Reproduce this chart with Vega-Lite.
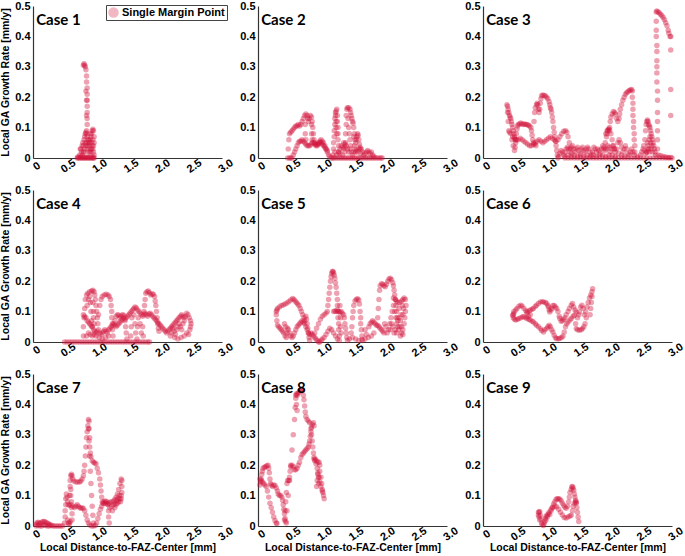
{
"$schema": "https://vega.github.io/schema/vega-lite/v6.json",
"background": "white",
"padding": {"left": 0, "top": 0, "right": 0, "bottom": 0},
"columns": 3,
"spacing": {"row": 32, "column": 36},
"bounds": "flush",
"config": {
 "view": {"stroke": null},
 "axis": {"labelFont": "Liberation Sans", "labelFontWeight": "bold", "labelFontSize": 11, "labelColor": "#000", "titleFont": "Liberation Sans", "titleFontWeight": "bold", "titleFontSize": 10.5, "titleColor": "#000", "domainColor": "#333", "domainWidth": 1.2, "ticks": false, "grid": false, "labelExpr": "datum.value == 0 ? '0' : format(datum.value, '.1f')"},
 "axisX": {"labelAngle": -35, "labelAlign": "center", "labelBaseline": "top", "labelPadding": 3, "values": [0, 0.5, 1, 1.5, 2, 2.5, 3], "titlePadding": 0},
 "axisY": {"labelPadding": 3, "titlePadding": 4, "values": [0, 0.1, 0.2, 0.3, 0.4, 0.5]},
 "text": {"font": "Lato", "fontWeight": "bold", "fontSize": 15, "align": "left", "baseline": "middle", "color": "#000"}
},
"datasets": {"d": [
{"c":1,"x":0.70,"y":0},{"c":1,"x":0.72,"y":0},{"c":1,"x":0.74,"y":0},{"c":1,"x":0.76,"y":0},{"c":1,"x":0.78,"y":0},{"c":1,"x":0.80,"y":0},{"c":1,"x":0.82,"y":0},{"c":1,"x":0.84,"y":0},{"c":1,"x":0.86,"y":0},{"c":1,"x":0.88,"y":0},{"c":1,"x":0.90,"y":0},{"c":1,"x":0.92,"y":0},{"c":1,"x":0.94,"y":0},{"c":1,"x":0.96,"y":0},{"c":1,"x":0.97,"y":0},
{"c":1,"x":0.71,"y":0.003},{"c":1,"x":0.75,"y":0.003},{"c":1,"x":0.79,"y":0.003},{"c":1,"x":0.83,"y":0.003},{"c":1,"x":0.87,"y":0.003},{"c":1,"x":0.91,"y":0.003},{"c":1,"x":0.95,"y":0.003},
{"c":1,"x":0.80,"y":0.305},{"c":1,"x":0.81,"y":0.31},{"c":1,"x":0.82,"y":0.305},{"c":1,"x":0.83,"y":0.30},{"c":1,"x":0.84,"y":0.29},{"c":1,"x":0.85,"y":0.27},{"c":1,"x":0.85,"y":0.25},{"c":1,"x":0.86,"y":0.23},{"c":1,"x":0.86,"y":0.21},{"c":1,"x":0.86,"y":0.19},{"c":1,"x":0.86,"y":0.17},{"c":1,"x":0.86,"y":0.15},{"c":1,"x":0.86,"y":0.13},{"c":1,"x":0.86,"y":0.11},{"c":1,"x":0.85,"y":0.09},{"c":1,"x":0.84,"y":0.22},{"c":1,"x":0.85,"y":0.19},{"c":1,"x":0.85,"y":0.14},
{"c":1,"x":0.74,"y":0.01},{"c":1,"x":0.75,"y":0.03},{"c":1,"x":0.76,"y":0.03},{"c":1,"x":0.77,"y":0.02},{"c":1,"x":0.78,"y":0.04},{"c":1,"x":0.79,"y":0.05},{"c":1,"x":0.80,"y":0.04},{"c":1,"x":0.81,"y":0.06},{"c":1,"x":0.82,"y":0.07},{"c":1,"x":0.83,"y":0.08},{"c":1,"x":0.84,"y":0.085},{"c":1,"x":0.85,"y":0.08},{"c":1,"x":0.86,"y":0.07},{"c":1,"x":0.87,"y":0.06},{"c":1,"x":0.88,"y":0.05},{"c":1,"x":0.89,"y":0.04},{"c":1,"x":0.90,"y":0.05},{"c":1,"x":0.91,"y":0.06},{"c":1,"x":0.92,"y":0.07},{"c":1,"x":0.93,"y":0.08},{"c":1,"x":0.94,"y":0.09},{"c":1,"x":0.95,"y":0.095},{"c":1,"x":0.96,"y":0.09},{"c":1,"x":0.97,"y":0.07},{"c":1,"x":0.97,"y":0.05},{"c":1,"x":0.96,"y":0.04},{"c":1,"x":0.95,"y":0.03},{"c":1,"x":0.94,"y":0.04},{"c":1,"x":0.93,"y":0.03},{"c":1,"x":0.92,"y":0.02},{"c":1,"x":0.91,"y":0.03},{"c":1,"x":0.90,"y":0.02},{"c":1,"x":0.88,"y":0.02},{"c":1,"x":0.86,"y":0.03},{"c":1,"x":0.84,"y":0.04},{"c":1,"x":0.82,"y":0.03},{"c":1,"x":0.80,"y":0.02},{"c":1,"x":0.78,"y":0.01},{"c":1,"x":0.81,"y":0.02},{"c":1,"x":0.83,"y":0.05},{"c":1,"x":0.85,"y":0.05},{"c":1,"x":0.87,"y":0.04},{"c":1,"x":0.89,"y":0.06},{"c":1,"x":0.91,"y":0.08},{"c":1,"x":0.93,"y":0.05},{"c":1,"x":0.95,"y":0.06},{"c":1,"x":0.96,"y":0.02},{"c":1,"x":0.97,"y":0.01},

{"c":2,"x":0.47,"y":0.00},{"c":2,"x":0.48,"y":0.03},{"c":2,"x":0.49,"y":0.06},{"c":2,"x":0.50,"y":0.08},{"c":2,"x":0.52,"y":0.085},{"c":2,"x":0.54,"y":0.09},{"c":2,"x":0.56,"y":0.095},{"c":2,"x":0.58,"y":0.10},{"c":2,"x":0.60,"y":0.105},{"c":2,"x":0.62,"y":0.105},{"c":2,"x":0.64,"y":0.11},{"c":2,"x":0.66,"y":0.105},{"c":2,"x":0.68,"y":0.11},{"c":2,"x":0.70,"y":0.12},{"c":2,"x":0.72,"y":0.13},{"c":2,"x":0.74,"y":0.14},{"c":2,"x":0.76,"y":0.145},{"c":2,"x":0.78,"y":0.14},{"c":2,"x":0.79,"y":0.13},{"c":2,"x":0.80,"y":0.12},{"c":2,"x":0.81,"y":0.13},{"c":2,"x":0.83,"y":0.14},{"c":2,"x":0.85,"y":0.135},{"c":2,"x":0.86,"y":0.12},{"c":2,"x":0.87,"y":0.10},{"c":2,"x":0.88,"y":0.08},{"c":2,"x":0.89,"y":0.06},{"c":2,"x":0.90,"y":0.05},{"c":2,"x":0.92,"y":0.045},{"c":2,"x":0.94,"y":0.04},{"c":2,"x":0.96,"y":0.045},{"c":2,"x":0.98,"y":0.05},{"c":2,"x":1.00,"y":0.05},{"c":2,"x":1.02,"y":0.045},{"c":2,"x":1.04,"y":0.04},{"c":2,"x":1.06,"y":0.035},{"c":2,"x":1.08,"y":0.03},{"c":2,"x":1.10,"y":0.025},
{"c":2,"x":0.75,"y":0.11},{"c":2,"x":0.75,"y":0.08},{"c":2,"x":0.76,"y":0.06},{"c":2,"x":0.85,"y":0.11},{"c":2,"x":0.85,"y":0.08},{"c":2,"x":0.86,"y":0.06},
{"c":2,"x":0.50,"y":0.00},{"c":2,"x":0.52,"y":0.00},{"c":2,"x":0.54,"y":0.00},{"c":2,"x":0.56,"y":0.01},{"c":2,"x":0.58,"y":0.02},{"c":2,"x":0.60,"y":0.03},{"c":2,"x":0.62,"y":0.04},{"c":2,"x":0.64,"y":0.05},{"c":2,"x":0.66,"y":0.055},{"c":2,"x":0.68,"y":0.055},{"c":2,"x":0.70,"y":0.06},{"c":2,"x":0.72,"y":0.055},{"c":2,"x":0.74,"y":0.05},{"c":2,"x":0.76,"y":0.045},{"c":2,"x":0.78,"y":0.04},{"c":2,"x":0.80,"y":0.04},{"c":2,"x":0.82,"y":0.04},{"c":2,"x":0.84,"y":0.045},{"c":2,"x":0.86,"y":0.05},{"c":2,"x":0.88,"y":0.05},{"c":2,"x":0.90,"y":0.045},{"c":2,"x":0.92,"y":0.04},{"c":2,"x":0.94,"y":0.045},{"c":2,"x":0.96,"y":0.05},{"c":2,"x":0.98,"y":0.055},{"c":2,"x":1.00,"y":0.06},{"c":2,"x":1.02,"y":0.055},{"c":2,"x":1.04,"y":0.05},{"c":2,"x":1.06,"y":0.04},{"c":2,"x":1.08,"y":0.03},{"c":2,"x":1.10,"y":0.02},{"c":2,"x":1.12,"y":0.01},{"c":2,"x":1.14,"y":0.005},{"c":2,"x":1.16,"y":0.0},{"c":2,"x":1.18,"y":0.0},
{"c":2,"x":1.19,"y":0.01},{"c":2,"x":1.20,"y":0.03},{"c":2,"x":1.20,"y":0.05},{"c":2,"x":1.21,"y":0.07},{"c":2,"x":1.21,"y":0.09},{"c":2,"x":1.22,"y":0.11},{"c":2,"x":1.22,"y":0.13},{"c":2,"x":1.23,"y":0.15},{"c":2,"x":1.24,"y":0.155},{"c":2,"x":1.25,"y":0.16},{"c":2,"x":1.26,"y":0.14},{"c":2,"x":1.26,"y":0.12},{"c":2,"x":1.27,"y":0.10},{"c":2,"x":1.27,"y":0.08},{"c":2,"x":1.27,"y":0.06},{"c":2,"x":1.28,"y":0.04},{"c":2,"x":1.28,"y":0.02},{"c":2,"x":1.23,"y":0.14},{"c":2,"x":1.24,"y":0.12},{"c":2,"x":1.24,"y":0.10},{"c":2,"x":1.25,"y":0.08},
{"c":2,"x":1.38,"y":0.02},{"c":2,"x":1.39,"y":0.05},{"c":2,"x":1.39,"y":0.08},{"c":2,"x":1.40,"y":0.11},{"c":2,"x":1.40,"y":0.14},{"c":2,"x":1.41,"y":0.16},{"c":2,"x":1.42,"y":0.165},{"c":2,"x":1.44,"y":0.165},{"c":2,"x":1.46,"y":0.16},{"c":2,"x":1.47,"y":0.15},{"c":2,"x":1.48,"y":0.14},{"c":2,"x":1.49,"y":0.13},{"c":2,"x":1.50,"y":0.12},{"c":2,"x":1.51,"y":0.115},{"c":2,"x":1.52,"y":0.10},{"c":2,"x":1.53,"y":0.08},{"c":2,"x":1.54,"y":0.06},{"c":2,"x":1.55,"y":0.05},{"c":2,"x":1.56,"y":0.06},{"c":2,"x":1.57,"y":0.07},{"c":2,"x":1.58,"y":0.08},{"c":2,"x":1.59,"y":0.075},{"c":2,"x":1.60,"y":0.06},{"c":2,"x":1.61,"y":0.045},{"c":2,"x":1.62,"y":0.03},{"c":2,"x":1.63,"y":0.015},
{"c":2,"x":1.43,"y":0.13},{"c":2,"x":1.44,"y":0.10},{"c":2,"x":1.45,"y":0.08},{"c":2,"x":1.46,"y":0.06},{"c":2,"x":1.47,"y":0.04},{"c":2,"x":1.52,"y":0.07},{"c":2,"x":1.53,"y":0.04},{"c":2,"x":1.55,"y":0.02},
{"c":2,"x":1.22,"y":0.02},{"c":2,"x":1.25,"y":0.01},{"c":2,"x":1.28,"y":0.02},{"c":2,"x":1.30,"y":0.03},{"c":2,"x":1.32,"y":0.04},{"c":2,"x":1.34,"y":0.035},{"c":2,"x":1.36,"y":0.03},{"c":2,"x":1.38,"y":0.035},{"c":2,"x":1.40,"y":0.04},{"c":2,"x":1.42,"y":0.03},{"c":2,"x":1.44,"y":0.02},{"c":2,"x":1.46,"y":0.03},{"c":2,"x":1.48,"y":0.02},{"c":2,"x":1.50,"y":0.01},{"c":2,"x":1.52,"y":0.02},{"c":2,"x":1.54,"y":0.03},{"c":2,"x":1.56,"y":0.025},{"c":2,"x":1.58,"y":0.02},{"c":2,"x":1.60,"y":0.03},{"c":2,"x":1.62,"y":0.035},{"c":2,"x":1.64,"y":0.03},{"c":2,"x":1.66,"y":0.02},{"c":2,"x":1.68,"y":0.01},{"c":2,"x":1.70,"y":0.015},{"c":2,"x":1.72,"y":0.02},{"c":2,"x":1.74,"y":0.025},{"c":2,"x":1.76,"y":0.02},{"c":2,"x":1.78,"y":0.015},{"c":2,"x":1.80,"y":0.02},{"c":2,"x":1.82,"y":0.01},{"c":2,"x":1.84,"y":0.005},{"c":2,"x":1.30,"y":0.015},{"c":2,"x":1.34,"y":0.01},{"c":2,"x":1.36,"y":0.05},{"c":2,"x":1.38,"y":0.045},
{"c":2,"x":1.20,"y":0},{"c":2,"x":1.23,"y":0},{"c":2,"x":1.26,"y":0},{"c":2,"x":1.29,"y":0},{"c":2,"x":1.32,"y":0},{"c":2,"x":1.35,"y":0},{"c":2,"x":1.38,"y":0},{"c":2,"x":1.41,"y":0},{"c":2,"x":1.44,"y":0},{"c":2,"x":1.47,"y":0},{"c":2,"x":1.50,"y":0},{"c":2,"x":1.53,"y":0},{"c":2,"x":1.56,"y":0},{"c":2,"x":1.59,"y":0},{"c":2,"x":1.62,"y":0},{"c":2,"x":1.65,"y":0},{"c":2,"x":1.68,"y":0},{"c":2,"x":1.71,"y":0},{"c":2,"x":1.74,"y":0},{"c":2,"x":1.77,"y":0},{"c":2,"x":1.80,"y":0},{"c":2,"x":1.83,"y":0},{"c":2,"x":1.86,"y":0},{"c":2,"x":1.89,"y":0},{"c":2,"x":1.92,"y":0},{"c":2,"x":1.95,"y":0},{"c":2,"x":1.97,"y":0},

{"c":3,"x":0.38,"y":0.175},{"c":3,"x":0.39,"y":0.17},{"c":3,"x":0.40,"y":0.16},{"c":3,"x":0.41,"y":0.15},{"c":3,"x":0.42,"y":0.14},{"c":3,"x":0.43,"y":0.135},{"c":3,"x":0.44,"y":0.13},{"c":3,"x":0.45,"y":0.12},{"c":3,"x":0.46,"y":0.11},{"c":3,"x":0.47,"y":0.10},{"c":3,"x":0.48,"y":0.09},{"c":3,"x":0.49,"y":0.08},{"c":3,"x":0.50,"y":0.07},{"c":3,"x":0.51,"y":0.06},{"c":3,"x":0.52,"y":0.05},
{"c":3,"x":0.39,"y":0.15},{"c":3,"x":0.40,"y":0.12},{"c":3,"x":0.41,"y":0.09},{"c":3,"x":0.42,"y":0.085},{"c":3,"x":0.44,"y":0.08},{"c":3,"x":0.46,"y":0.06},{"c":3,"x":0.48,"y":0.04},{"c":3,"x":0.50,"y":0.025},{"c":3,"x":0.51,"y":0.035},{"c":3,"x":0.52,"y":0.06},{"c":3,"x":0.53,"y":0.08},{"c":3,"x":0.54,"y":0.095},{"c":3,"x":0.55,"y":0.105},
{"c":3,"x":0.56,"y":0.11},{"c":3,"x":0.58,"y":0.112},{"c":3,"x":0.60,"y":0.115},{"c":3,"x":0.62,"y":0.112},{"c":3,"x":0.64,"y":0.11},{"c":3,"x":0.66,"y":0.112},{"c":3,"x":0.68,"y":0.11},{"c":3,"x":0.70,"y":0.11},{"c":3,"x":0.72,"y":0.108},{"c":3,"x":0.74,"y":0.105},{"c":3,"x":0.76,"y":0.10},{"c":3,"x":0.77,"y":0.09},{"c":3,"x":0.78,"y":0.075},{"c":3,"x":0.79,"y":0.06},{"c":3,"x":0.80,"y":0.05},{"c":3,"x":0.82,"y":0.045},{"c":3,"x":0.84,"y":0.04},
{"c":3,"x":0.81,"y":0.12},{"c":3,"x":0.82,"y":0.15},{"c":3,"x":0.83,"y":0.165},{"c":3,"x":0.85,"y":0.175},{"c":3,"x":0.86,"y":0.18},{"c":3,"x":0.87,"y":0.175},{"c":3,"x":0.88,"y":0.16},{"c":3,"x":0.89,"y":0.15},{"c":3,"x":0.90,"y":0.16},{"c":3,"x":0.91,"y":0.18},{"c":3,"x":0.92,"y":0.195},{"c":3,"x":0.93,"y":0.205},{"c":3,"x":0.95,"y":0.207},{"c":3,"x":0.97,"y":0.206},{"c":3,"x":0.99,"y":0.204},{"c":3,"x":1.01,"y":0.20},{"c":3,"x":1.03,"y":0.195},{"c":3,"x":1.05,"y":0.185},{"c":3,"x":1.06,"y":0.175},{"c":3,"x":1.07,"y":0.165},{"c":3,"x":1.08,"y":0.16},{"c":3,"x":1.09,"y":0.15},{"c":3,"x":1.10,"y":0.135},{"c":3,"x":1.11,"y":0.12},{"c":3,"x":1.12,"y":0.10},{"c":3,"x":1.13,"y":0.085},{"c":3,"x":1.14,"y":0.07},{"c":3,"x":1.15,"y":0.055},{"c":3,"x":1.16,"y":0.04},{"c":3,"x":1.17,"y":0.025},{"c":3,"x":1.18,"y":0.01},{"c":3,"x":1.19,"y":0.0},
{"c":3,"x":0.47,"y":0.07},{"c":3,"x":0.50,"y":0.065},{"c":3,"x":0.53,"y":0.06},{"c":3,"x":0.56,"y":0.06},{"c":3,"x":0.59,"y":0.065},{"c":3,"x":0.62,"y":0.06},{"c":3,"x":0.65,"y":0.055},{"c":3,"x":0.68,"y":0.05},{"c":3,"x":0.71,"y":0.045},{"c":3,"x":0.74,"y":0.04},{"c":3,"x":0.77,"y":0.04},{"c":3,"x":0.80,"y":0.045},{"c":3,"x":0.83,"y":0.05},{"c":3,"x":0.86,"y":0.055},{"c":3,"x":0.89,"y":0.06},{"c":3,"x":0.92,"y":0.055},{"c":3,"x":0.95,"y":0.05},{"c":3,"x":0.98,"y":0.055},{"c":3,"x":1.01,"y":0.06},{"c":3,"x":1.04,"y":0.065},{"c":3,"x":1.07,"y":0.07},{"c":3,"x":1.10,"y":0.065},{"c":3,"x":1.13,"y":0.06},{"c":3,"x":1.16,"y":0.055},{"c":3,"x":1.19,"y":0.06},{"c":3,"x":1.22,"y":0.07},{"c":3,"x":1.25,"y":0.08},{"c":3,"x":1.28,"y":0.088},{"c":3,"x":1.31,"y":0.09},{"c":3,"x":1.33,"y":0.085},{"c":3,"x":1.35,"y":0.07},{"c":3,"x":1.37,"y":0.05},{"c":3,"x":1.39,"y":0.03},{"c":3,"x":1.41,"y":0.015},
{"c":3,"x":1.20,"y":0.005},{"c":3,"x":1.22,"y":0.015},{"c":3,"x":1.24,"y":0.025},{"c":3,"x":1.26,"y":0.02},{"c":3,"x":1.28,"y":0.01},{"c":3,"x":1.30,"y":0.02},{"c":3,"x":1.32,"y":0.03},{"c":3,"x":1.34,"y":0.035},{"c":3,"x":1.36,"y":0.03},{"c":3,"x":1.38,"y":0.02},{"c":3,"x":1.40,"y":0.035},{"c":3,"x":1.42,"y":0.04},{"c":3,"x":1.44,"y":0.03},{"c":3,"x":1.46,"y":0.02},{"c":3,"x":1.48,"y":0.03},{"c":3,"x":1.50,"y":0.035},{"c":3,"x":1.52,"y":0.025},{"c":3,"x":1.54,"y":0.015},{"c":3,"x":1.56,"y":0.03},{"c":3,"x":1.58,"y":0.035},{"c":3,"x":1.60,"y":0.025},{"c":3,"x":1.62,"y":0.02},{"c":3,"x":1.64,"y":0.03},{"c":3,"x":1.66,"y":0.035},{"c":3,"x":1.68,"y":0.03},{"c":3,"x":1.70,"y":0.02},{"c":3,"x":1.72,"y":0.01},{"c":3,"x":1.74,"y":0.02},{"c":3,"x":1.76,"y":0.035},{"c":3,"x":1.78,"y":0.03},{"c":3,"x":1.80,"y":0.02},{"c":3,"x":1.82,"y":0.03},{"c":3,"x":1.84,"y":0.025},{"c":3,"x":1.86,"y":0.015},{"c":3,"x":1.88,"y":0.03},{"c":3,"x":1.90,"y":0.04},{"c":3,"x":1.92,"y":0.035},{"c":3,"x":1.94,"y":0.025},{"c":3,"x":1.96,"y":0.03},{"c":3,"x":1.98,"y":0.04},{"c":3,"x":2.00,"y":0.035},{"c":3,"x":2.02,"y":0.02},{"c":3,"x":2.04,"y":0.03},{"c":3,"x":2.06,"y":0.04},{"c":3,"x":2.08,"y":0.03},{"c":3,"x":2.10,"y":0.02},{"c":3,"x":2.12,"y":0.03},{"c":3,"x":2.14,"y":0.05},{"c":3,"x":2.16,"y":0.06},{"c":3,"x":2.18,"y":0.05},{"c":3,"x":2.20,"y":0.035},{"c":3,"x":2.22,"y":0.02},{"c":3,"x":2.24,"y":0.03},{"c":3,"x":2.26,"y":0.04},{"c":3,"x":2.28,"y":0.03},{"c":3,"x":2.30,"y":0.015},{"c":3,"x":2.32,"y":0.01},{"c":3,"x":2.34,"y":0.02},{"c":3,"x":2.36,"y":0.03},{"c":3,"x":2.38,"y":0.02},{"c":3,"x":2.40,"y":0.01},{"c":3,"x":2.45,"y":0.005},{"c":3,"x":2.50,"y":0.01},{"c":3,"x":2.52,"y":0.02},{"c":3,"x":2.54,"y":0.03},{"c":3,"x":2.56,"y":0.025},{"c":3,"x":2.58,"y":0.015},{"c":3,"x":2.60,"y":0.02},{"c":3,"x":2.62,"y":0.03},{"c":3,"x":2.64,"y":0.02},
{"c":3,"x":1.30,"y":0.005},{"c":3,"x":1.35,"y":0.01},{"c":3,"x":1.40,"y":0.005},{"c":3,"x":1.45,"y":0.01},{"c":3,"x":1.50,"y":0.005},{"c":3,"x":1.55,"y":0.01},{"c":3,"x":1.60,"y":0.005},{"c":3,"x":1.65,"y":0.01},{"c":3,"x":1.70,"y":0.005},{"c":3,"x":1.75,"y":0.01},{"c":3,"x":1.80,"y":0.005},{"c":3,"x":1.85,"y":0.01},{"c":3,"x":1.90,"y":0.01},{"c":3,"x":1.95,"y":0.005},{"c":3,"x":2.00,"y":0.01},{"c":3,"x":2.05,"y":0.01},{"c":3,"x":2.10,"y":0.005},{"c":3,"x":2.15,"y":0.015},{"c":3,"x":2.20,"y":0.01},{"c":3,"x":2.25,"y":0.005},
{"c":3,"x":1.30,"y":0},{"c":3,"x":1.35,"y":0},{"c":3,"x":1.40,"y":0},{"c":3,"x":1.45,"y":0},{"c":3,"x":1.50,"y":0},{"c":3,"x":1.55,"y":0},{"c":3,"x":1.60,"y":0},{"c":3,"x":1.65,"y":0},{"c":3,"x":1.70,"y":0},{"c":3,"x":1.75,"y":0},{"c":3,"x":1.80,"y":0},{"c":3,"x":1.85,"y":0},{"c":3,"x":1.90,"y":0},{"c":3,"x":1.95,"y":0},{"c":3,"x":2.00,"y":0},{"c":3,"x":2.05,"y":0},{"c":3,"x":2.10,"y":0},{"c":3,"x":2.15,"y":0},{"c":3,"x":2.20,"y":0},{"c":3,"x":2.25,"y":0},{"c":3,"x":2.30,"y":0},{"c":3,"x":2.35,"y":0},{"c":3,"x":2.40,"y":0},{"c":3,"x":2.45,"y":0},{"c":3,"x":2.50,"y":0},{"c":3,"x":2.55,"y":0},{"c":3,"x":2.60,"y":0},{"c":3,"x":2.65,"y":0},{"c":3,"x":2.70,"y":0},{"c":3,"x":2.75,"y":0},{"c":3,"x":2.80,"y":0},{"c":3,"x":2.85,"y":0},{"c":3,"x":2.90,"y":0},{"c":3,"x":2.95,"y":0},{"c":3,"x":3.00,"y":0},
{"c":3,"x":1.92,"y":0.03},{"c":3,"x":1.94,"y":0.05},{"c":3,"x":1.96,"y":0.07},{"c":3,"x":1.97,"y":0.08},{"c":3,"x":1.98,"y":0.09},{"c":3,"x":2.00,"y":0.095},{"c":3,"x":2.01,"y":0.10},{"c":3,"x":2.02,"y":0.12},{"c":3,"x":2.03,"y":0.135},{"c":3,"x":2.05,"y":0.145},{"c":3,"x":2.07,"y":0.153},{"c":3,"x":2.09,"y":0.15},{"c":3,"x":2.10,"y":0.145},{"c":3,"x":2.12,"y":0.13},{"c":3,"x":2.14,"y":0.12},{"c":3,"x":2.16,"y":0.13},{"c":3,"x":2.17,"y":0.145},{"c":3,"x":2.18,"y":0.16},{"c":3,"x":2.20,"y":0.175},{"c":3,"x":2.22,"y":0.19},{"c":3,"x":2.24,"y":0.20},{"c":3,"x":2.26,"y":0.21},{"c":3,"x":2.28,"y":0.215},{"c":3,"x":2.30,"y":0.218},{"c":3,"x":2.32,"y":0.222},{"c":3,"x":2.34,"y":0.224},{"c":3,"x":2.36,"y":0.225},{"c":3,"x":2.37,"y":0.22},{"c":3,"x":2.37,"y":0.20},{"c":3,"x":2.38,"y":0.18},{"c":3,"x":2.38,"y":0.16},{"c":3,"x":2.38,"y":0.14},{"c":3,"x":2.39,"y":0.12},{"c":3,"x":2.39,"y":0.10},{"c":3,"x":2.40,"y":0.08},{"c":3,"x":2.40,"y":0.06},{"c":3,"x":2.41,"y":0.04},{"c":3,"x":2.41,"y":0.02},
{"c":3,"x":1.95,"y":0.08},{"c":3,"x":1.97,"y":0.09},{"c":3,"x":1.99,"y":0.095},{"c":3,"x":2.01,"y":0.09},{"c":3,"x":2.03,"y":0.08},{"c":3,"x":2.05,"y":0.06},{"c":3,"x":2.07,"y":0.04},{"c":3,"x":2.09,"y":0.03},
{"c":3,"x":2.55,"y":0.04},{"c":3,"x":2.57,"y":0.06},{"c":3,"x":2.58,"y":0.09},{"c":3,"x":2.59,"y":0.11},{"c":3,"x":2.60,"y":0.12},{"c":3,"x":2.61,"y":0.125},{"c":3,"x":2.62,"y":0.12},{"c":3,"x":2.63,"y":0.11},{"c":3,"x":2.64,"y":0.105},{"c":3,"x":2.65,"y":0.10},{"c":3,"x":2.66,"y":0.09},{"c":3,"x":2.67,"y":0.08},{"c":3,"x":2.68,"y":0.07},{"c":3,"x":2.69,"y":0.06},{"c":3,"x":2.70,"y":0.05},{"c":3,"x":2.71,"y":0.04},{"c":3,"x":2.72,"y":0.03},{"c":3,"x":2.73,"y":0.02},{"c":3,"x":2.74,"y":0.01},
{"c":3,"x":2.60,"y":0.02},{"c":3,"x":2.62,"y":0.04},{"c":3,"x":2.64,"y":0.06},{"c":3,"x":2.65,"y":0.07},{"c":3,"x":2.66,"y":0.05},{"c":3,"x":2.67,"y":0.03},{"c":3,"x":2.68,"y":0.04},{"c":3,"x":2.69,"y":0.02},{"c":3,"x":2.63,"y":0.03},{"c":3,"x":2.61,"y":0.05},
{"c":3,"x":2.75,"y":0.48},{"c":3,"x":2.76,"y":0.484},{"c":3,"x":2.78,"y":0.48},{"c":3,"x":2.80,"y":0.477},{"c":3,"x":2.82,"y":0.472},{"c":3,"x":2.84,"y":0.468},{"c":3,"x":2.86,"y":0.462},{"c":3,"x":2.88,"y":0.455},{"c":3,"x":2.90,"y":0.445},{"c":3,"x":2.92,"y":0.435},{"c":3,"x":2.94,"y":0.42},{"c":3,"x":2.95,"y":0.41},{"c":3,"x":2.97,"y":0.40},{"c":3,"x":2.98,"y":0.40},
{"c":3,"x":2.75,"y":0.45},{"c":3,"x":2.75,"y":0.42},{"c":3,"x":2.75,"y":0.40},{"c":3,"x":2.76,"y":0.37},{"c":3,"x":2.76,"y":0.35},{"c":3,"x":2.76,"y":0.32},{"c":3,"x":2.76,"y":0.30},{"c":3,"x":2.76,"y":0.28},{"c":3,"x":2.76,"y":0.25},{"c":3,"x":2.77,"y":0.22},{"c":3,"x":2.77,"y":0.19},{"c":3,"x":2.77,"y":0.15},{"c":3,"x":2.77,"y":0.12},{"c":3,"x":2.77,"y":0.09},{"c":3,"x":2.77,"y":0.06},{"c":3,"x":2.77,"y":0.03},
{"c":3,"x":2.98,"y":0.355},{"c":3,"x":2.98,"y":0.225},{"c":3,"x":2.98,"y":0.14},
{"c":3,"x":2.78,"y":0.01},{"c":3,"x":2.82,"y":0.008},{"c":3,"x":2.86,"y":0.005},{"c":3,"x":2.90,"y":0.003},{"c":3,"x":2.94,"y":0.002},{"c":3,"x":2.98,"y":0.002},

{"c":4,"x":0.50,"y":0},{"c":4,"x":0.54,"y":0},{"c":4,"x":0.58,"y":0},{"c":4,"x":0.62,"y":0},{"c":4,"x":0.66,"y":0},{"c":4,"x":0.70,"y":0},{"c":4,"x":0.74,"y":0},{"c":4,"x":0.78,"y":0},{"c":4,"x":0.82,"y":0},{"c":4,"x":0.86,"y":0},{"c":4,"x":0.90,"y":0},{"c":4,"x":0.94,"y":0},{"c":4,"x":0.98,"y":0},{"c":4,"x":1.02,"y":0},{"c":4,"x":1.06,"y":0},{"c":4,"x":1.10,"y":0},{"c":4,"x":1.14,"y":0},{"c":4,"x":1.18,"y":0},{"c":4,"x":1.22,"y":0},{"c":4,"x":1.26,"y":0},{"c":4,"x":1.30,"y":0},{"c":4,"x":1.34,"y":0},{"c":4,"x":1.38,"y":0},{"c":4,"x":1.42,"y":0},{"c":4,"x":1.46,"y":0},{"c":4,"x":1.50,"y":0},{"c":4,"x":1.54,"y":0},{"c":4,"x":1.58,"y":0},{"c":4,"x":1.62,"y":0},{"c":4,"x":1.66,"y":0},{"c":4,"x":1.70,"y":0},{"c":4,"x":1.74,"y":0},{"c":4,"x":1.78,"y":0},{"c":4,"x":1.82,"y":0},{"c":4,"x":1.85,"y":0},
{"c":4,"x":0.80,"y":0.02},{"c":4,"x":0.80,"y":0.05},{"c":4,"x":0.81,"y":0.08},{"c":4,"x":0.82,"y":0.11},{"c":4,"x":0.83,"y":0.14},{"c":4,"x":0.85,"y":0.155},{"c":4,"x":0.87,"y":0.16},{"c":4,"x":0.90,"y":0.165},{"c":4,"x":0.93,"y":0.168},{"c":4,"x":0.95,"y":0.17},{"c":4,"x":0.97,"y":0.165},{"c":4,"x":0.98,"y":0.155},{"c":4,"x":0.99,"y":0.14},{"c":4,"x":1.00,"y":0.12},{"c":4,"x":1.01,"y":0.10},{"c":4,"x":1.02,"y":0.08},
{"c":4,"x":0.86,"y":0.12},{"c":4,"x":0.88,"y":0.14},{"c":4,"x":0.90,"y":0.15},{"c":4,"x":0.91,"y":0.13},{"c":4,"x":0.92,"y":0.10},{"c":4,"x":0.93,"y":0.07},{"c":4,"x":0.94,"y":0.05},{"c":4,"x":0.95,"y":0.13},{"c":4,"x":0.96,"y":0.10},{"c":4,"x":0.96,"y":0.08},{"c":4,"x":0.97,"y":0.06},
{"c":4,"x":1.03,"y":0.06},{"c":4,"x":1.04,"y":0.09},{"c":4,"x":1.06,"y":0.12},{"c":4,"x":1.08,"y":0.14},{"c":4,"x":1.10,"y":0.15},{"c":4,"x":1.13,"y":0.155},{"c":4,"x":1.16,"y":0.157},{"c":4,"x":1.19,"y":0.155},{"c":4,"x":1.21,"y":0.15},{"c":4,"x":1.23,"y":0.14},{"c":4,"x":1.24,"y":0.12},{"c":4,"x":1.25,"y":0.10},{"c":4,"x":1.25,"y":0.08},{"c":4,"x":1.26,"y":0.06},{"c":4,"x":1.26,"y":0.04},{"c":4,"x":1.27,"y":0.02},
{"c":4,"x":0.80,"y":0.09},{"c":4,"x":0.82,"y":0.085},{"c":4,"x":0.84,"y":0.08},{"c":4,"x":0.86,"y":0.07},{"c":4,"x":0.88,"y":0.065},{"c":4,"x":0.90,"y":0.06},{"c":4,"x":0.92,"y":0.055},{"c":4,"x":0.94,"y":0.05},{"c":4,"x":0.96,"y":0.04},{"c":4,"x":0.98,"y":0.035},{"c":4,"x":1.00,"y":0.03},{"c":4,"x":1.02,"y":0.035},{"c":4,"x":1.04,"y":0.04},{"c":4,"x":1.06,"y":0.03},{"c":4,"x":1.08,"y":0.025},{"c":4,"x":1.10,"y":0.03},{"c":4,"x":1.12,"y":0.035},{"c":4,"x":1.14,"y":0.04},{"c":4,"x":1.16,"y":0.035},{"c":4,"x":1.18,"y":0.03},{"c":4,"x":1.20,"y":0.04},{"c":4,"x":1.22,"y":0.045},{"c":4,"x":1.24,"y":0.05},{"c":4,"x":1.26,"y":0.055},{"c":4,"x":1.28,"y":0.06},{"c":4,"x":1.30,"y":0.055},{"c":4,"x":1.32,"y":0.05},{"c":4,"x":1.34,"y":0.055},{"c":4,"x":1.36,"y":0.06},{"c":4,"x":1.38,"y":0.065},{"c":4,"x":1.40,"y":0.07},{"c":4,"x":1.42,"y":0.075},{"c":4,"x":1.44,"y":0.08},{"c":4,"x":1.46,"y":0.075},{"c":4,"x":1.48,"y":0.08},{"c":4,"x":1.50,"y":0.085},{"c":4,"x":1.52,"y":0.09},{"c":4,"x":1.54,"y":0.095},{"c":4,"x":1.56,"y":0.10},{"c":4,"x":1.58,"y":0.105},{"c":4,"x":1.60,"y":0.11},{"c":4,"x":1.62,"y":0.115},{"c":4,"x":1.64,"y":0.112},{"c":4,"x":1.66,"y":0.105},{"c":4,"x":1.68,"y":0.10},{"c":4,"x":1.70,"y":0.095},{"c":4,"x":1.72,"y":0.09},{"c":4,"x":1.74,"y":0.085},{"c":4,"x":1.76,"y":0.09},{"c":4,"x":1.78,"y":0.095},{"c":4,"x":1.80,"y":0.09},{"c":4,"x":1.82,"y":0.085},
{"c":4,"x":0.85,"y":0.02},{"c":4,"x":0.88,"y":0.03},{"c":4,"x":0.91,"y":0.025},{"c":4,"x":0.94,"y":0.02},{"c":4,"x":0.97,"y":0.025},{"c":4,"x":1.00,"y":0.02},{"c":4,"x":1.05,"y":0.015},{"c":4,"x":1.10,"y":0.01},{"c":4,"x":1.15,"y":0.015},{"c":4,"x":1.20,"y":0.02},
{"c":4,"x":1.30,"y":0.07},{"c":4,"x":1.32,"y":0.085},{"c":4,"x":1.34,"y":0.09},{"c":4,"x":1.36,"y":0.088},{"c":4,"x":1.38,"y":0.08},{"c":4,"x":1.40,"y":0.085},{"c":4,"x":1.42,"y":0.09},{"c":4,"x":1.44,"y":0.088},{"c":4,"x":1.46,"y":0.07},{"c":4,"x":1.47,"y":0.05},{"c":4,"x":1.48,"y":0.03},{"c":4,"x":1.49,"y":0.01},
{"c":4,"x":1.55,"y":0.02},{"c":4,"x":1.56,"y":0.05},{"c":4,"x":1.57,"y":0.08},{"c":4,"x":1.60,"y":0.09},{"c":4,"x":1.62,"y":0.06},{"c":4,"x":1.63,"y":0.03},{"c":4,"x":1.65,"y":0.01},{"c":4,"x":1.66,"y":0.05},{"c":4,"x":1.67,"y":0.08},{"c":4,"x":1.70,"y":0.06},{"c":4,"x":1.72,"y":0.03},{"c":4,"x":1.74,"y":0.05},{"c":4,"x":1.75,"y":0.02},
{"c":4,"x":1.76,"y":0.10},{"c":4,"x":1.77,"y":0.12},{"c":4,"x":1.78,"y":0.14},{"c":4,"x":1.79,"y":0.16},{"c":4,"x":1.81,"y":0.165},{"c":4,"x":1.83,"y":0.168},{"c":4,"x":1.85,"y":0.162},{"c":4,"x":1.87,"y":0.155},{"c":4,"x":1.89,"y":0.158},{"c":4,"x":1.91,"y":0.157},{"c":4,"x":1.93,"y":0.15},{"c":4,"x":1.94,"y":0.135},{"c":4,"x":1.95,"y":0.12},{"c":4,"x":1.96,"y":0.10},{"c":4,"x":1.97,"y":0.08},{"c":4,"x":1.98,"y":0.06},{"c":4,"x":1.99,"y":0.045},{"c":4,"x":2.00,"y":0.035},
{"c":4,"x":1.84,"y":0.092},{"c":4,"x":1.86,"y":0.095},{"c":4,"x":1.88,"y":0.09},{"c":4,"x":1.90,"y":0.085},{"c":4,"x":1.92,"y":0.08},{"c":4,"x":1.94,"y":0.075},{"c":4,"x":1.96,"y":0.07},{"c":4,"x":1.98,"y":0.065},{"c":4,"x":2.00,"y":0.06},{"c":4,"x":2.02,"y":0.055},{"c":4,"x":2.04,"y":0.05},{"c":4,"x":2.06,"y":0.045},{"c":4,"x":2.08,"y":0.04},{"c":4,"x":2.10,"y":0.035},{"c":4,"x":2.12,"y":0.03},{"c":4,"x":2.14,"y":0.035},{"c":4,"x":2.16,"y":0.04},{"c":4,"x":2.18,"y":0.045},{"c":4,"x":2.20,"y":0.05},{"c":4,"x":2.22,"y":0.055},{"c":4,"x":2.24,"y":0.06},{"c":4,"x":2.26,"y":0.065},{"c":4,"x":2.28,"y":0.07},{"c":4,"x":2.30,"y":0.075},{"c":4,"x":2.32,"y":0.08},{"c":4,"x":2.34,"y":0.085},{"c":4,"x":2.36,"y":0.09},{"c":4,"x":2.38,"y":0.085},{"c":4,"x":2.40,"y":0.08},{"c":4,"x":2.42,"y":0.085},{"c":4,"x":2.44,"y":0.095},{"c":4,"x":2.46,"y":0.09},{"c":4,"x":2.48,"y":0.08},{"c":4,"x":2.50,"y":0.07},{"c":4,"x":2.51,"y":0.06},{"c":4,"x":2.50,"y":0.05},{"c":4,"x":2.49,"y":0.04},
{"c":4,"x":2.18,"y":0.02},{"c":4,"x":2.20,"y":0.03},{"c":4,"x":2.22,"y":0.045},{"c":4,"x":2.24,"y":0.035},{"c":4,"x":2.26,"y":0.025},{"c":4,"x":2.28,"y":0.04},{"c":4,"x":2.30,"y":0.05},{"c":4,"x":2.32,"y":0.06},{"c":4,"x":2.34,"y":0.05},{"c":4,"x":2.36,"y":0.04},{"c":4,"x":2.38,"y":0.06},{"c":4,"x":2.40,"y":0.07},{"c":4,"x":2.25,"y":0.015},{"c":4,"x":2.30,"y":0.01},{"c":4,"x":2.35,"y":0.015},{"c":4,"x":2.40,"y":0.02},{"c":4,"x":2.44,"y":0.03},{"c":4,"x":2.47,"y":0.025},

{"c":5,"x":0.29,"y":0.10},{"c":5,"x":0.30,"y":0.105},{"c":5,"x":0.31,"y":0.11},{"c":5,"x":0.34,"y":0.115},{"c":5,"x":0.37,"y":0.12},{"c":5,"x":0.40,"y":0.122},{"c":5,"x":0.43,"y":0.125},{"c":5,"x":0.46,"y":0.128},{"c":5,"x":0.49,"y":0.133},{"c":5,"x":0.52,"y":0.138},{"c":5,"x":0.55,"y":0.143},{"c":5,"x":0.57,"y":0.14},{"c":5,"x":0.59,"y":0.135},{"c":5,"x":0.61,"y":0.13},{"c":5,"x":0.63,"y":0.125},{"c":5,"x":0.65,"y":0.12},{"c":5,"x":0.67,"y":0.11},{"c":5,"x":0.69,"y":0.10},{"c":5,"x":0.71,"y":0.09},{"c":5,"x":0.73,"y":0.08},{"c":5,"x":0.74,"y":0.07},{"c":5,"x":0.76,"y":0.085},{"c":5,"x":0.77,"y":0.075},{"c":5,"x":0.78,"y":0.06},{"c":5,"x":0.79,"y":0.045},{"c":5,"x":0.80,"y":0.03},{"c":5,"x":0.81,"y":0.015},{"c":5,"x":0.82,"y":0.005},
{"c":5,"x":0.29,"y":0.09},{"c":5,"x":0.30,"y":0.07},{"c":5,"x":0.31,"y":0.055},{"c":5,"x":0.33,"y":0.05},{"c":5,"x":0.35,"y":0.045},{"c":5,"x":0.37,"y":0.04},{"c":5,"x":0.39,"y":0.035},{"c":5,"x":0.41,"y":0.03},{"c":5,"x":0.43,"y":0.02},{"c":5,"x":0.45,"y":0.015},{"c":5,"x":0.46,"y":0.03},{"c":5,"x":0.47,"y":0.045},{"c":5,"x":0.48,"y":0.04},{"c":5,"x":0.50,"y":0.03},{"c":5,"x":0.52,"y":0.02},{"c":5,"x":0.54,"y":0.015},{"c":5,"x":0.56,"y":0.02},{"c":5,"x":0.58,"y":0.03},{"c":5,"x":0.60,"y":0.04},{"c":5,"x":0.62,"y":0.05},{"c":5,"x":0.64,"y":0.055},{"c":5,"x":0.66,"y":0.06},{"c":5,"x":0.68,"y":0.065},{"c":5,"x":0.70,"y":0.07},{"c":5,"x":0.72,"y":0.065},{"c":5,"x":0.74,"y":0.06},{"c":5,"x":0.76,"y":0.05},{"c":5,"x":0.78,"y":0.04},{"c":5,"x":0.80,"y":0.03},{"c":5,"x":0.82,"y":0.025},{"c":5,"x":0.84,"y":0.03},{"c":5,"x":0.86,"y":0.025},{"c":5,"x":0.88,"y":0.02},{"c":5,"x":0.90,"y":0.015},{"c":5,"x":0.92,"y":0.01},{"c":5,"x":0.94,"y":0.005},{"c":5,"x":0.96,"y":0.0},{"c":5,"x":0.98,"y":0.0},{"c":5,"x":1.00,"y":0.005},{"c":5,"x":0.42,"y":0.06},{"c":5,"x":0.44,"y":0.05},
{"c":5,"x":0.90,"y":0.03},{"c":5,"x":0.93,"y":0.045},{"c":5,"x":0.96,"y":0.06},{"c":5,"x":0.99,"y":0.075},{"c":5,"x":1.02,"y":0.085},{"c":5,"x":1.05,"y":0.09},{"c":5,"x":1.08,"y":0.095},{"c":5,"x":1.10,"y":0.10},{"c":5,"x":1.11,"y":0.12},{"c":5,"x":1.12,"y":0.14},{"c":5,"x":1.13,"y":0.16},{"c":5,"x":1.14,"y":0.18},{"c":5,"x":1.15,"y":0.20},{"c":5,"x":1.16,"y":0.215},{"c":5,"x":1.17,"y":0.225},{"c":5,"x":1.18,"y":0.232},{"c":5,"x":1.19,"y":0.232},{"c":5,"x":1.20,"y":0.228},{"c":5,"x":1.21,"y":0.22},{"c":5,"x":1.22,"y":0.21},{"c":5,"x":1.23,"y":0.195},{"c":5,"x":1.24,"y":0.18},{"c":5,"x":1.25,"y":0.16},{"c":5,"x":1.26,"y":0.14},{"c":5,"x":1.26,"y":0.12},{"c":5,"x":1.27,"y":0.10},{"c":5,"x":1.27,"y":0.08},{"c":5,"x":1.28,"y":0.06},{"c":5,"x":1.28,"y":0.04},{"c":5,"x":1.29,"y":0.02},{"c":5,"x":1.29,"y":0.005},
{"c":5,"x":1.02,"y":0.01},{"c":5,"x":1.05,"y":0.015},{"c":5,"x":1.08,"y":0.025},{"c":5,"x":1.11,"y":0.035},{"c":5,"x":1.14,"y":0.045},{"c":5,"x":1.17,"y":0.04},{"c":5,"x":1.20,"y":0.03},{"c":5,"x":1.23,"y":0.02},{"c":5,"x":1.26,"y":0.01},
{"c":5,"x":1.20,"y":0.10},{"c":5,"x":1.22,"y":0.102},{"c":5,"x":1.24,"y":0.10},{"c":5,"x":1.26,"y":0.105},{"c":5,"x":1.28,"y":0.10},{"c":5,"x":1.30,"y":0.098},{"c":5,"x":1.32,"y":0.10},{"c":5,"x":1.34,"y":0.095},{"c":5,"x":1.36,"y":0.09},{"c":5,"x":1.37,"y":0.08},{"c":5,"x":1.38,"y":0.06},{"c":5,"x":1.39,"y":0.045},{"c":5,"x":1.40,"y":0.03},{"c":5,"x":1.41,"y":0.015},{"c":5,"x":1.42,"y":0.005},{"c":5,"x":1.30,"y":0.12},{"c":5,"x":1.31,"y":0.08},{"c":5,"x":1.31,"y":0.05},{"c":5,"x":1.32,"y":0.03},
{"c":5,"x":1.48,"y":0.03},{"c":5,"x":1.49,"y":0.05},{"c":5,"x":1.50,"y":0.08},{"c":5,"x":1.51,"y":0.10},{"c":5,"x":1.52,"y":0.12},{"c":5,"x":1.54,"y":0.135},{"c":5,"x":1.56,"y":0.14},{"c":5,"x":1.58,"y":0.142},{"c":5,"x":1.60,"y":0.138},{"c":5,"x":1.61,"y":0.125},{"c":5,"x":1.62,"y":0.10},{"c":5,"x":1.63,"y":0.08},{"c":5,"x":1.63,"y":0.06},{"c":5,"x":1.64,"y":0.04},{"c":5,"x":1.65,"y":0.02},{"c":5,"x":1.66,"y":0.005},
{"c":5,"x":1.45,"y":0.01},{"c":5,"x":1.50,"y":0.015},{"c":5,"x":1.55,"y":0.01},{"c":5,"x":1.60,"y":0.005},{"c":5,"x":1.65,"y":0.008},{"c":5,"x":1.70,"y":0.01},{"c":5,"x":1.75,"y":0.015},{"c":5,"x":1.80,"y":0.02},{"c":5,"x":1.84,"y":0.03},{"c":5,"x":1.70,"y":0.04},{"c":5,"x":1.72,"y":0.025},
{"c":5,"x":1.76,"y":0.05},{"c":5,"x":1.78,"y":0.06},{"c":5,"x":1.80,"y":0.065},{"c":5,"x":1.82,"y":0.07},{"c":5,"x":1.84,"y":0.065},{"c":5,"x":1.86,"y":0.06},{"c":5,"x":1.88,"y":0.055},{"c":5,"x":1.90,"y":0.055},{"c":5,"x":1.92,"y":0.05},{"c":5,"x":1.94,"y":0.045},{"c":5,"x":1.96,"y":0.04},{"c":5,"x":1.98,"y":0.035},{"c":5,"x":2.00,"y":0.03},
{"c":5,"x":1.90,"y":0.08},{"c":5,"x":1.91,"y":0.11},{"c":5,"x":1.92,"y":0.14},{"c":5,"x":1.93,"y":0.17},{"c":5,"x":1.94,"y":0.185},{"c":5,"x":1.96,"y":0.192},{"c":5,"x":1.98,"y":0.19},{"c":5,"x":2.00,"y":0.185},{"c":5,"x":2.02,"y":0.182},{"c":5,"x":2.04,"y":0.19},{"c":5,"x":2.06,"y":0.20},{"c":5,"x":2.08,"y":0.207},{"c":5,"x":2.10,"y":0.21},{"c":5,"x":2.12,"y":0.205},{"c":5,"x":2.14,"y":0.195},{"c":5,"x":2.15,"y":0.185},{"c":5,"x":2.16,"y":0.17},{"c":5,"x":2.17,"y":0.155},{"c":5,"x":2.18,"y":0.14},{"c":5,"x":2.19,"y":0.12},{"c":5,"x":2.20,"y":0.10},{"c":5,"x":2.21,"y":0.08},
{"c":5,"x":2.15,"y":0.145},{"c":5,"x":2.18,"y":0.14},{"c":5,"x":2.20,"y":0.135},{"c":5,"x":2.22,"y":0.13},{"c":5,"x":2.25,"y":0.13},{"c":5,"x":2.28,"y":0.135},{"c":5,"x":2.30,"y":0.14},{"c":5,"x":2.32,"y":0.145},{"c":5,"x":2.34,"y":0.14},{"c":5,"x":2.35,"y":0.12},{"c":5,"x":2.34,"y":0.10},{"c":5,"x":2.33,"y":0.08},{"c":5,"x":2.32,"y":0.06},{"c":5,"x":2.30,"y":0.04},{"c":5,"x":2.28,"y":0.03},{"c":5,"x":2.25,"y":0.05},{"c":5,"x":2.22,"y":0.07},{"c":5,"x":2.20,"y":0.06},{"c":5,"x":2.18,"y":0.04},{"c":5,"x":2.16,"y":0.03},{"c":5,"x":2.14,"y":0.05},{"c":5,"x":2.12,"y":0.06},{"c":5,"x":2.10,"y":0.04},{"c":5,"x":2.20,"y":0.03},{"c":5,"x":2.22,"y":0.05},{"c":5,"x":2.24,"y":0.08},{"c":5,"x":2.26,"y":0.07},{"c":5,"x":2.28,"y":0.05},{"c":5,"x":2.30,"y":0.09},{"c":5,"x":2.31,"y":0.11},{"c":5,"x":2.29,"y":0.12},{"c":5,"x":2.27,"y":0.09},{"c":5,"x":2.23,"y":0.04},{"c":5,"x":2.19,"y":0.08},{"c":5,"x":2.17,"y":0.10},{"c":5,"x":2.15,"y":0.12},{"c":5,"x":2.13,"y":0.10},{"c":5,"x":2.11,"y":0.08},{"c":5,"x":2.09,"y":0.06},{"c":5,"x":2.07,"y":0.04},{"c":5,"x":2.05,"y":0.03},{"c":5,"x":2.03,"y":0.05},{"c":5,"x":2.01,"y":0.06},{"c":5,"x":2.26,"y":0.02},{"c":5,"x":2.30,"y":0.025},{"c":5,"x":2.24,"y":0.11},

{"c":6,"x":0.47,"y":0.088},{"c":6,"x":0.49,"y":0.094},{"c":6,"x":0.52,"y":0.105},{"c":6,"x":0.54,"y":0.11},{"c":6,"x":0.57,"y":0.118},{"c":6,"x":0.60,"y":0.121},{"c":6,"x":0.62,"y":0.118},{"c":6,"x":0.65,"y":0.11},{"c":6,"x":0.68,"y":0.103},{"c":6,"x":0.70,"y":0.099},{"c":6,"x":0.73,"y":0.102},{"c":6,"x":0.75,"y":0.105},{"c":6,"x":0.78,"y":0.108},{"c":6,"x":0.80,"y":0.11},{"c":6,"x":0.83,"y":0.117},{"c":6,"x":0.85,"y":0.121},{"c":6,"x":0.88,"y":0.127},{"c":6,"x":0.91,"y":0.132},{"c":6,"x":0.94,"y":0.132},{"c":6,"x":0.96,"y":0.132},{"c":6,"x":0.99,"y":0.13},{"c":6,"x":1.01,"y":0.127},{"c":6,"x":1.03,"y":0.12},{"c":6,"x":1.04,"y":0.115},{"c":6,"x":1.05,"y":0.105},{"c":6,"x":1.06,"y":0.099},{"c":6,"x":1.08,"y":0.105},{"c":6,"x":1.09,"y":0.11},{"c":6,"x":1.11,"y":0.12},{"c":6,"x":1.13,"y":0.12},{"c":6,"x":1.15,"y":0.115},{"c":6,"x":1.17,"y":0.11},{"c":6,"x":1.19,"y":0.10},{"c":6,"x":1.21,"y":0.085},{"c":6,"x":1.22,"y":0.077},{"c":6,"x":1.24,"y":0.068},{"c":6,"x":1.26,"y":0.07},{"c":6,"x":1.28,"y":0.075},{"c":6,"x":1.30,"y":0.08},{"c":6,"x":1.32,"y":0.09},{"c":6,"x":1.35,"y":0.10},{"c":6,"x":1.37,"y":0.11},{"c":6,"x":1.40,"y":0.121},{"c":6,"x":1.42,"y":0.127},{"c":6,"x":1.44,"y":0.115},{"c":6,"x":1.46,"y":0.105},{"c":6,"x":1.48,"y":0.099},{"c":6,"x":1.50,"y":0.08},{"c":6,"x":1.52,"y":0.09},{"c":6,"x":1.53,"y":0.099},{"c":6,"x":1.55,"y":0.115},{"c":6,"x":1.57,"y":0.121},{"c":6,"x":1.59,"y":0.11},{"c":6,"x":1.61,"y":0.09},{"c":6,"x":1.63,"y":0.099},{"c":6,"x":1.65,"y":0.115},{"c":6,"x":1.67,"y":0.13},{"c":6,"x":1.69,"y":0.145},{"c":6,"x":1.71,"y":0.155},{"c":6,"x":1.73,"y":0.165},{"c":6,"x":1.74,"y":0.175},{"c":6,"x":1.73,"y":0.15},{"c":6,"x":1.72,"y":0.13},{"c":6,"x":1.71,"y":0.11},{"c":6,"x":1.70,"y":0.09},
{"c":6,"x":0.48,"y":0.08},{"c":6,"x":0.50,"y":0.075},{"c":6,"x":0.52,"y":0.072},{"c":6,"x":0.55,"y":0.075},{"c":6,"x":0.57,"y":0.077},{"c":6,"x":0.60,"y":0.08},{"c":6,"x":0.63,"y":0.083},{"c":6,"x":0.65,"y":0.083},{"c":6,"x":0.68,"y":0.08},{"c":6,"x":0.70,"y":0.077},{"c":6,"x":0.73,"y":0.074},{"c":6,"x":0.75,"y":0.072},{"c":6,"x":0.78,"y":0.068},{"c":6,"x":0.80,"y":0.066},{"c":6,"x":0.83,"y":0.06},{"c":6,"x":0.85,"y":0.055},{"c":6,"x":0.88,"y":0.05},{"c":6,"x":0.91,"y":0.044},{"c":6,"x":0.93,"y":0.038},{"c":6,"x":0.96,"y":0.033},{"c":6,"x":0.98,"y":0.04},{"c":6,"x":1.01,"y":0.044},{"c":6,"x":1.03,"y":0.05},{"c":6,"x":1.05,"y":0.055},{"c":6,"x":1.07,"y":0.05},{"c":6,"x":1.09,"y":0.04},{"c":6,"x":1.11,"y":0.033},{"c":6,"x":1.13,"y":0.022},{"c":6,"x":1.15,"y":0.014},{"c":6,"x":1.17,"y":0.011},{"c":6,"x":1.20,"y":0.011},{"c":6,"x":1.22,"y":0.012},{"c":6,"x":1.25,"y":0.015},{"c":6,"x":1.27,"y":0.02},{"c":6,"x":1.29,"y":0.033},{"c":6,"x":1.31,"y":0.05},{"c":6,"x":1.33,"y":0.06},{"c":6,"x":1.35,"y":0.066},{"c":6,"x":1.38,"y":0.072},{"c":6,"x":1.40,"y":0.077},{"c":6,"x":1.43,"y":0.085},{"c":6,"x":1.45,"y":0.088},{"c":6,"x":1.47,"y":0.06},{"c":6,"x":1.48,"y":0.044},{"c":6,"x":1.50,"y":0.04},{"c":6,"x":1.53,"y":0.039},{"c":6,"x":1.56,"y":0.04},{"c":6,"x":1.58,"y":0.044},{"c":6,"x":1.60,"y":0.05},{"c":6,"x":1.62,"y":0.06},{"c":6,"x":1.64,"y":0.08},
{"c":6,"x":0.70,"y":0.095},{"c":6,"x":0.72,"y":0.085},{"c":6,"x":0.75,"y":0.09},{"c":6,"x":0.48,"y":0.09},{"c":6,"x":0.49,"y":0.1},

{"c":7,"x":0.05,"y":0.005},{"c":7,"x":0.06,"y":0.01},{"c":7,"x":0.08,"y":0.012},{"c":7,"x":0.10,"y":0.01},{"c":7,"x":0.12,"y":0.008},{"c":7,"x":0.14,"y":0.012},{"c":7,"x":0.16,"y":0.015},{"c":7,"x":0.18,"y":0.015},{"c":7,"x":0.20,"y":0.012},{"c":7,"x":0.22,"y":0.01},{"c":7,"x":0.24,"y":0.008},{"c":7,"x":0.26,"y":0.005},{"c":7,"x":0.28,"y":0.003},{"c":7,"x":0.30,"y":0.002},{"c":7,"x":0.32,"y":0.0},{"c":7,"x":0.35,"y":0.0},{"c":7,"x":0.38,"y":0.0},{"c":7,"x":0.41,"y":0.0},{"c":7,"x":0.44,"y":0.0},{"c":7,"x":0.47,"y":0.0},{"c":7,"x":0.05,"y":0.0},{"c":7,"x":0.08,"y":0.002},{"c":7,"x":0.11,"y":0.0},{"c":7,"x":0.14,"y":0.0},{"c":7,"x":0.17,"y":0.003},{"c":7,"x":0.20,"y":0.002},{"c":7,"x":0.23,"y":0.0},{"c":7,"x":0.26,"y":0.0},
{"c":7,"x":0.50,"y":0.01},{"c":7,"x":0.51,"y":0.03},{"c":7,"x":0.51,"y":0.05},{"c":7,"x":0.52,"y":0.07},{"c":7,"x":0.52,"y":0.09},{"c":7,"x":0.53,"y":0.105},{"c":7,"x":0.54,"y":0.095},{"c":7,"x":0.55,"y":0.08},{"c":7,"x":0.56,"y":0.07},{"c":7,"x":0.58,"y":0.068},{"c":7,"x":0.55,"y":0.02},{"c":7,"x":0.56,"y":0.01},{"c":7,"x":0.57,"y":0.005},{"c":7,"x":0.58,"y":0.01},{"c":7,"x":0.59,"y":0.015},
{"c":7,"x":0.58,"y":0.10},{"c":7,"x":0.59,"y":0.13},{"c":7,"x":0.59,"y":0.15},{"c":7,"x":0.60,"y":0.165},{"c":7,"x":0.61,"y":0.17},{"c":7,"x":0.62,"y":0.165},{"c":7,"x":0.63,"y":0.155},{"c":7,"x":0.65,"y":0.148},{"c":7,"x":0.68,"y":0.145},{"c":7,"x":0.71,"y":0.145},{"c":7,"x":0.74,"y":0.145},{"c":7,"x":0.76,"y":0.148},{"c":7,"x":0.78,"y":0.155},{"c":7,"x":0.80,"y":0.165},{"c":7,"x":0.81,"y":0.18},{"c":7,"x":0.82,"y":0.20},{"c":7,"x":0.83,"y":0.23},{"c":7,"x":0.84,"y":0.26},{"c":7,"x":0.85,"y":0.29},{"c":7,"x":0.86,"y":0.31},{"c":7,"x":0.87,"y":0.33},{"c":7,"x":0.88,"y":0.35},{"c":7,"x":0.89,"y":0.345},{"c":7,"x":0.89,"y":0.32},{"c":7,"x":0.90,"y":0.29},{"c":7,"x":0.90,"y":0.26},{"c":7,"x":0.91,"y":0.24},{"c":7,"x":0.92,"y":0.228},{"c":7,"x":0.94,"y":0.215},{"c":7,"x":0.96,"y":0.21},{"c":7,"x":0.98,"y":0.207},{"c":7,"x":1.00,"y":0.205},{"c":7,"x":1.02,"y":0.19},{"c":7,"x":1.04,"y":0.175},{"c":7,"x":1.06,"y":0.155},{"c":7,"x":1.07,"y":0.135},{"c":7,"x":1.08,"y":0.115},{"c":7,"x":1.09,"y":0.095},{"c":7,"x":1.10,"y":0.08},{"c":7,"x":1.12,"y":0.075},{"c":7,"x":1.15,"y":0.075},{"c":7,"x":1.18,"y":0.072},{"c":7,"x":1.20,"y":0.075},{"c":7,"x":1.22,"y":0.078},{"c":7,"x":1.25,"y":0.08},{"c":7,"x":1.28,"y":0.082},{"c":7,"x":1.30,"y":0.088},{"c":7,"x":1.32,"y":0.095},{"c":7,"x":1.34,"y":0.105},{"c":7,"x":1.36,"y":0.12},{"c":7,"x":1.38,"y":0.14},{"c":7,"x":1.40,"y":0.155},{"c":7,"x":1.41,"y":0.15},{"c":7,"x":1.41,"y":0.13},{"c":7,"x":1.41,"y":0.11},{"c":7,"x":1.40,"y":0.09},{"c":7,"x":1.39,"y":0.08},
{"c":7,"x":0.88,"y":0.32},{"c":7,"x":0.89,"y":0.28},{"c":7,"x":0.90,"y":0.23},{"c":7,"x":0.91,"y":0.18},{"c":7,"x":0.92,"y":0.14},{"c":7,"x":0.93,"y":0.10},{"c":7,"x":0.94,"y":0.065},{"c":7,"x":0.95,"y":0.035},{"c":7,"x":0.96,"y":0.01},
{"c":7,"x":0.60,"y":0.12},{"c":7,"x":0.60,"y":0.10},{"c":7,"x":0.61,"y":0.08},{"c":7,"x":0.61,"y":0.06},{"c":7,"x":0.62,"y":0.04},{"c":7,"x":0.62,"y":0.02},
{"c":7,"x":0.60,"y":0.07},{"c":7,"x":0.63,"y":0.065},{"c":7,"x":0.66,"y":0.06},{"c":7,"x":0.68,"y":0.065},{"c":7,"x":0.70,"y":0.07},{"c":7,"x":0.72,"y":0.065},{"c":7,"x":0.74,"y":0.06},{"c":7,"x":0.76,"y":0.058},{"c":7,"x":0.78,"y":0.06},{"c":7,"x":0.80,"y":0.058},{"c":7,"x":0.82,"y":0.05},{"c":7,"x":0.84,"y":0.035},{"c":7,"x":0.86,"y":0.02},{"c":7,"x":0.88,"y":0.01},{"c":7,"x":0.90,"y":0.003},{"c":7,"x":0.93,"y":0.0},{"c":7,"x":0.96,"y":0.0},{"c":7,"x":0.99,"y":0.002},{"c":7,"x":1.01,"y":0.01},{"c":7,"x":1.03,"y":0.025},{"c":7,"x":1.05,"y":0.04},{"c":7,"x":1.07,"y":0.055},{"c":7,"x":1.09,"y":0.065},{"c":7,"x":1.11,"y":0.075},{"c":7,"x":1.13,"y":0.08},{"c":7,"x":1.15,"y":0.082},{"c":7,"x":1.17,"y":0.08},{"c":7,"x":1.19,"y":0.07},{"c":7,"x":1.20,"y":0.05},{"c":7,"x":1.20,"y":0.03},{"c":7,"x":1.21,"y":0.01},
{"c":7,"x":1.22,"y":0.06},{"c":7,"x":1.25,"y":0.065},{"c":7,"x":1.28,"y":0.07},{"c":7,"x":1.30,"y":0.075},{"c":7,"x":1.32,"y":0.07},{"c":7,"x":1.34,"y":0.075},{"c":7,"x":1.36,"y":0.08},{"c":7,"x":1.38,"y":0.09},{"c":7,"x":1.40,"y":0.10},{"c":7,"x":1.26,"y":0.05},{"c":7,"x":1.30,"y":0.06},{"c":7,"x":1.33,"y":0.085},{"c":7,"x":1.35,"y":0.09},{"c":7,"x":1.37,"y":0.10},

{"c":8,"x":0.03,"y":0.135},{"c":8,"x":0.04,"y":0.145},{"c":8,"x":0.05,"y":0.155},{"c":8,"x":0.06,"y":0.17},{"c":8,"x":0.07,"y":0.18},{"c":8,"x":0.08,"y":0.19},{"c":8,"x":0.10,"y":0.193},{"c":8,"x":0.12,"y":0.195},{"c":8,"x":0.14,"y":0.198},{"c":8,"x":0.16,"y":0.20},{"c":8,"x":0.17,"y":0.19},{"c":8,"x":0.18,"y":0.175},{"c":8,"x":0.19,"y":0.155},{"c":8,"x":0.20,"y":0.14},{"c":8,"x":0.21,"y":0.135},{"c":8,"x":0.23,"y":0.13},{"c":8,"x":0.25,"y":0.135},{"c":8,"x":0.27,"y":0.133},{"c":8,"x":0.29,"y":0.125},{"c":8,"x":0.31,"y":0.115},{"c":8,"x":0.32,"y":0.105},{"c":8,"x":0.34,"y":0.10},{"c":8,"x":0.36,"y":0.10},{"c":8,"x":0.38,"y":0.095},{"c":8,"x":0.39,"y":0.085},{"c":8,"x":0.40,"y":0.07},{"c":8,"x":0.41,"y":0.055},{"c":8,"x":0.42,"y":0.04},{"c":8,"x":0.43,"y":0.025},{"c":8,"x":0.44,"y":0.015},{"c":8,"x":0.45,"y":0.01},
{"c":8,"x":0.03,"y":0.155},{"c":8,"x":0.05,"y":0.15},{"c":8,"x":0.07,"y":0.145},{"c":8,"x":0.09,"y":0.14},{"c":8,"x":0.11,"y":0.135},{"c":8,"x":0.13,"y":0.13},{"c":8,"x":0.15,"y":0.115},{"c":8,"x":0.17,"y":0.095},{"c":8,"x":0.19,"y":0.075},{"c":8,"x":0.21,"y":0.06},{"c":8,"x":0.23,"y":0.045},{"c":8,"x":0.25,"y":0.03},{"c":8,"x":0.27,"y":0.018},{"c":8,"x":0.29,"y":0.01},{"c":8,"x":0.30,"y":0.008},
{"c":8,"x":0.42,"y":0.02},{"c":8,"x":0.43,"y":0.05},{"c":8,"x":0.44,"y":0.08},{"c":8,"x":0.45,"y":0.11},{"c":8,"x":0.46,"y":0.14},{"c":8,"x":0.47,"y":0.15},{"c":8,"x":0.49,"y":0.15},{"c":8,"x":0.50,"y":0.16},{"c":8,"x":0.51,"y":0.18},{"c":8,"x":0.52,"y":0.195},{"c":8,"x":0.54,"y":0.20},{"c":8,"x":0.56,"y":0.195},{"c":8,"x":0.58,"y":0.185},{"c":8,"x":0.60,"y":0.185},{"c":8,"x":0.62,"y":0.19},{"c":8,"x":0.64,"y":0.20},{"c":8,"x":0.66,"y":0.21},{"c":8,"x":0.68,"y":0.225},{"c":8,"x":0.70,"y":0.235},{"c":8,"x":0.72,"y":0.24},{"c":8,"x":0.74,"y":0.245},{"c":8,"x":0.76,"y":0.25},{"c":8,"x":0.78,"y":0.255},{"c":8,"x":0.80,"y":0.26},{"c":8,"x":0.81,"y":0.27},{"c":8,"x":0.82,"y":0.28},{"c":8,"x":0.83,"y":0.295},{"c":8,"x":0.84,"y":0.31},{"c":8,"x":0.85,"y":0.325},{"c":8,"x":0.86,"y":0.335},{"c":8,"x":0.88,"y":0.34},{"c":8,"x":0.89,"y":0.33},
{"c":8,"x":0.46,"y":0.05},{"c":8,"x":0.48,"y":0.10},{"c":8,"x":0.50,"y":0.15},{"c":8,"x":0.52,"y":0.20},{"c":8,"x":0.54,"y":0.25},{"c":8,"x":0.56,"y":0.30},{"c":8,"x":0.58,"y":0.35},{"c":8,"x":0.59,"y":0.39},{"c":8,"x":0.60,"y":0.42},
{"c":8,"x":0.60,"y":0.43},{"c":8,"x":0.61,"y":0.435},{"c":8,"x":0.62,"y":0.43},{"c":8,"x":0.63,"y":0.435},{"c":8,"x":0.65,"y":0.44},{"c":8,"x":0.67,"y":0.445},{"c":8,"x":0.69,"y":0.45},{"c":8,"x":0.70,"y":0.445},{"c":8,"x":0.72,"y":0.43},{"c":8,"x":0.73,"y":0.415},{"c":8,"x":0.74,"y":0.395},{"c":8,"x":0.75,"y":0.375},{"c":8,"x":0.76,"y":0.36},{"c":8,"x":0.78,"y":0.35},{"c":8,"x":0.80,"y":0.345},{"c":8,"x":0.82,"y":0.34},{"c":8,"x":0.84,"y":0.32},{"c":8,"x":0.85,"y":0.30},{"c":8,"x":0.86,"y":0.28},{"c":8,"x":0.87,"y":0.26},{"c":8,"x":0.88,"y":0.24},{"c":8,"x":0.89,"y":0.225},{"c":8,"x":0.90,"y":0.215},{"c":8,"x":0.92,"y":0.205},{"c":8,"x":0.94,"y":0.19},{"c":8,"x":0.95,"y":0.175},{"c":8,"x":0.96,"y":0.16},{"c":8,"x":0.98,"y":0.145},{"c":8,"x":1.00,"y":0.13},{"c":8,"x":1.02,"y":0.115},{"c":8,"x":1.04,"y":0.10},{"c":8,"x":1.05,"y":0.09},{"c":8,"x":0.61,"y":0.40},{"c":8,"x":0.62,"y":0.38},
{"c":8,"x":0.89,"y":0.22},{"c":8,"x":0.91,"y":0.22},{"c":8,"x":0.93,"y":0.215},{"c":8,"x":0.95,"y":0.21},{"c":8,"x":0.97,"y":0.21},{"c":8,"x":0.98,"y":0.20},{"c":8,"x":0.98,"y":0.18},{"c":8,"x":0.97,"y":0.16},{"c":8,"x":0.96,"y":0.14},{"c":8,"x":0.95,"y":0.17},{"c":8,"x":0.94,"y":0.15},{"c":8,"x":0.93,"y":0.13},{"c":8,"x":1.00,"y":0.16},{"c":8,"x":1.01,"y":0.14},{"c":8,"x":1.02,"y":0.12},{"c":8,"x":1.03,"y":0.11},

{"c":9,"x":0.88,"y":0.035},{"c":9,"x":0.89,"y":0.045},{"c":9,"x":0.90,"y":0.048},{"c":9,"x":0.91,"y":0.035},{"c":9,"x":0.92,"y":0.022},{"c":9,"x":0.93,"y":0.01},{"c":9,"x":0.94,"y":0.004},{"c":9,"x":0.96,"y":0.002},{"c":9,"x":0.97,"y":0.008},{"c":9,"x":0.98,"y":0.015},{"c":9,"x":0.99,"y":0.025},{"c":9,"x":1.00,"y":0.032},{"c":9,"x":1.02,"y":0.036},{"c":9,"x":1.04,"y":0.04},{"c":9,"x":1.06,"y":0.038},{"c":9,"x":1.08,"y":0.05},{"c":9,"x":1.10,"y":0.062},{"c":9,"x":1.12,"y":0.072},{"c":9,"x":1.14,"y":0.08},{"c":9,"x":1.16,"y":0.088},{"c":9,"x":1.18,"y":0.09},{"c":9,"x":1.20,"y":0.09},{"c":9,"x":1.22,"y":0.088},{"c":9,"x":1.24,"y":0.083},{"c":9,"x":1.26,"y":0.075},{"c":9,"x":1.28,"y":0.068},{"c":9,"x":1.30,"y":0.062},{"c":9,"x":1.32,"y":0.058},{"c":9,"x":1.34,"y":0.065},{"c":9,"x":1.36,"y":0.08},{"c":9,"x":1.37,"y":0.095},{"c":9,"x":1.38,"y":0.11},{"c":9,"x":1.40,"y":0.12},{"c":9,"x":1.41,"y":0.128},{"c":9,"x":1.42,"y":0.13},{"c":9,"x":1.43,"y":0.125},{"c":9,"x":1.44,"y":0.118},{"c":9,"x":1.45,"y":0.105},{"c":9,"x":1.46,"y":0.095},{"c":9,"x":1.47,"y":0.085},{"c":9,"x":1.48,"y":0.075},{"c":9,"x":1.49,"y":0.06},{"c":9,"x":1.50,"y":0.045},{"c":9,"x":1.51,"y":0.03},{"c":9,"x":1.52,"y":0.015},
{"c":9,"x":1.00,"y":0.02},{"c":9,"x":1.02,"y":0.03},{"c":9,"x":1.05,"y":0.045},{"c":9,"x":1.08,"y":0.055},{"c":9,"x":1.11,"y":0.06},{"c":9,"x":1.14,"y":0.065},{"c":9,"x":1.17,"y":0.063},{"c":9,"x":1.20,"y":0.055},{"c":9,"x":1.23,"y":0.045},{"c":9,"x":1.26,"y":0.036},{"c":9,"x":1.29,"y":0.028},{"c":9,"x":1.32,"y":0.026},{"c":9,"x":1.35,"y":0.03},{"c":9,"x":1.38,"y":0.033},{"c":9,"x":1.40,"y":0.035},{"c":9,"x":1.42,"y":0.05},{"c":9,"x":1.43,"y":0.065},{"c":9,"x":1.45,"y":0.075},{"c":9,"x":1.47,"y":0.08},{"c":9,"x":1.48,"y":0.078},
{"c":9,"x":0.88,"y":0.045},{"c":9,"x":0.89,"y":0.03},{"c":9,"x":0.90,"y":0.02}
]},
"concat": [
{"width": 189, "height": 152, "layer": [
 {"data": {"name": "d"}, "transform": [{"filter": "datum.c == 1"}], "mark": {"type": "point", "filled": true, "size": 30, "opacity": 0.4, "strokeWidth": 0},
  "encoding": {"x": {"field": "x", "type": "quantitative", "scale": {"domain": [0, 3], "nice": false}, "axis": {"title": null}},
   "y": {"field": "y", "type": "quantitative", "scale": {"domain": [0, 0.5], "nice": false}, "axis": {"title": "Local GA Growth Rate [mm/y]"}},
   "color": {"datum": "Single Margin Point", "type": "nominal", "scale": {"range": ["#d2143c"]}, "legend": {"title": null, "orient": "none", "legendX": 73, "legendY": -1, "strokeColor": "#444", "fillColor": "white", "padding": 2, "symbolType": "circle", "symbolSize": 110, "symbolOpacity": 0.3, "symbolStrokeWidth": 0, "labelFont": "Liberation Sans", "labelFontWeight": "bold", "labelFontSize": 11, "labelColor": "#000", "labelOffset": 3}}}},
 {"data": {"values": [{"t": "Case 1"}]}, "mark": {"type": "text"}, "encoding": {"text": {"field": "t"}, "x": {"datum": 0.05, "type": "quantitative"}, "y": {"datum": 0.455, "type": "quantitative"}}}
]},
{"width": 189, "height": 152, "layer": [
 {"data": {"name": "d"}, "transform": [{"filter": "datum.c == 2"}], "mark": {"type": "point", "filled": true, "size": 30, "opacity": 0.4, "strokeWidth": 0, "color": "#d2143c"},
  "encoding": {"x": {"field": "x", "type": "quantitative", "scale": {"domain": [0, 3], "nice": false}, "axis": {"title": null}},
   "y": {"field": "y", "type": "quantitative", "scale": {"domain": [0, 0.5], "nice": false}, "axis": {"title": null}}}},
 {"data": {"values": [{"t": "Case 2"}]}, "mark": {"type": "text"}, "encoding": {"text": {"field": "t"}, "x": {"datum": 0.05, "type": "quantitative"}, "y": {"datum": 0.455, "type": "quantitative"}}}
]},
{"width": 189, "height": 152, "layer": [
 {"data": {"name": "d"}, "transform": [{"filter": "datum.c == 3"}], "mark": {"type": "point", "filled": true, "size": 30, "opacity": 0.4, "strokeWidth": 0, "color": "#d2143c"},
  "encoding": {"x": {"field": "x", "type": "quantitative", "scale": {"domain": [0, 3], "nice": false}, "axis": {"title": null}},
   "y": {"field": "y", "type": "quantitative", "scale": {"domain": [0, 0.5], "nice": false}, "axis": {"title": null}}}},
 {"data": {"values": [{"t": "Case 3"}]}, "mark": {"type": "text"}, "encoding": {"text": {"field": "t"}, "x": {"datum": 0.05, "type": "quantitative"}, "y": {"datum": 0.455, "type": "quantitative"}}}
]},
{"width": 189, "height": 152, "layer": [
 {"data": {"name": "d"}, "transform": [{"filter": "datum.c == 4"}], "mark": {"type": "point", "filled": true, "size": 30, "opacity": 0.4, "strokeWidth": 0, "color": "#d2143c"},
  "encoding": {"x": {"field": "x", "type": "quantitative", "scale": {"domain": [0, 3], "nice": false}, "axis": {"title": null}},
   "y": {"field": "y", "type": "quantitative", "scale": {"domain": [0, 0.5], "nice": false}, "axis": {"title": "Local GA Growth Rate [mm/y]"}}}},
 {"data": {"values": [{"t": "Case 4"}]}, "mark": {"type": "text"}, "encoding": {"text": {"field": "t"}, "x": {"datum": 0.05, "type": "quantitative"}, "y": {"datum": 0.455, "type": "quantitative"}}}
]},
{"width": 189, "height": 152, "layer": [
 {"data": {"name": "d"}, "transform": [{"filter": "datum.c == 5"}], "mark": {"type": "point", "filled": true, "size": 30, "opacity": 0.4, "strokeWidth": 0, "color": "#d2143c"},
  "encoding": {"x": {"field": "x", "type": "quantitative", "scale": {"domain": [0, 3], "nice": false}, "axis": {"title": null}},
   "y": {"field": "y", "type": "quantitative", "scale": {"domain": [0, 0.5], "nice": false}, "axis": {"title": null}}}},
 {"data": {"values": [{"t": "Case 5"}]}, "mark": {"type": "text"}, "encoding": {"text": {"field": "t"}, "x": {"datum": 0.05, "type": "quantitative"}, "y": {"datum": 0.455, "type": "quantitative"}}}
]},
{"width": 189, "height": 152, "layer": [
 {"data": {"name": "d"}, "transform": [{"filter": "datum.c == 6"}], "mark": {"type": "point", "filled": true, "size": 30, "opacity": 0.4, "strokeWidth": 0, "color": "#d2143c"},
  "encoding": {"x": {"field": "x", "type": "quantitative", "scale": {"domain": [0, 3], "nice": false}, "axis": {"title": null}},
   "y": {"field": "y", "type": "quantitative", "scale": {"domain": [0, 0.5], "nice": false}, "axis": {"title": null}}}},
 {"data": {"values": [{"t": "Case 6"}]}, "mark": {"type": "text"}, "encoding": {"text": {"field": "t"}, "x": {"datum": 0.05, "type": "quantitative"}, "y": {"datum": 0.455, "type": "quantitative"}}}
]},
{"width": 189, "height": 152, "layer": [
 {"data": {"name": "d"}, "transform": [{"filter": "datum.c == 7"}], "mark": {"type": "point", "filled": true, "size": 30, "opacity": 0.4, "strokeWidth": 0, "color": "#d2143c"},
  "encoding": {"x": {"field": "x", "type": "quantitative", "scale": {"domain": [0, 3], "nice": false}, "axis": {"title": "Local Distance-to-FAZ-Center  [mm]"}},
   "y": {"field": "y", "type": "quantitative", "scale": {"domain": [0, 0.5], "nice": false}, "axis": {"title": "Local GA Growth Rate [mm/y]"}}}},
 {"data": {"values": [{"t": "Case 7"}]}, "mark": {"type": "text"}, "encoding": {"text": {"field": "t"}, "x": {"datum": 0.05, "type": "quantitative"}, "y": {"datum": 0.455, "type": "quantitative"}}}
]},
{"width": 189, "height": 152, "layer": [
 {"data": {"name": "d"}, "transform": [{"filter": "datum.c == 8"}], "mark": {"type": "point", "filled": true, "size": 30, "opacity": 0.4, "strokeWidth": 0, "color": "#d2143c"},
  "encoding": {"x": {"field": "x", "type": "quantitative", "scale": {"domain": [0, 3], "nice": false}, "axis": {"title": "Local Distance-to-FAZ-Center [mm]"}},
   "y": {"field": "y", "type": "quantitative", "scale": {"domain": [0, 0.5], "nice": false}, "axis": {"title": null}}}},
 {"data": {"values": [{"t": "Case 8"}]}, "mark": {"type": "text"}, "encoding": {"text": {"field": "t"}, "x": {"datum": 0.05, "type": "quantitative"}, "y": {"datum": 0.455, "type": "quantitative"}}}
]},
{"width": 189, "height": 152, "layer": [
 {"data": {"name": "d"}, "transform": [{"filter": "datum.c == 9"}], "mark": {"type": "point", "filled": true, "size": 30, "opacity": 0.4, "strokeWidth": 0, "color": "#d2143c"},
  "encoding": {"x": {"field": "x", "type": "quantitative", "scale": {"domain": [0, 3], "nice": false}, "axis": {"title": "Local Distance-to-FAZ-Center [mm]"}},
   "y": {"field": "y", "type": "quantitative", "scale": {"domain": [0, 0.5], "nice": false}, "axis": {"title": null}}}},
 {"data": {"values": [{"t": "Case 9"}]}, "mark": {"type": "text"}, "encoding": {"text": {"field": "t"}, "x": {"datum": 0.05, "type": "quantitative"}, "y": {"datum": 0.455, "type": "quantitative"}}}
]}
]
}
